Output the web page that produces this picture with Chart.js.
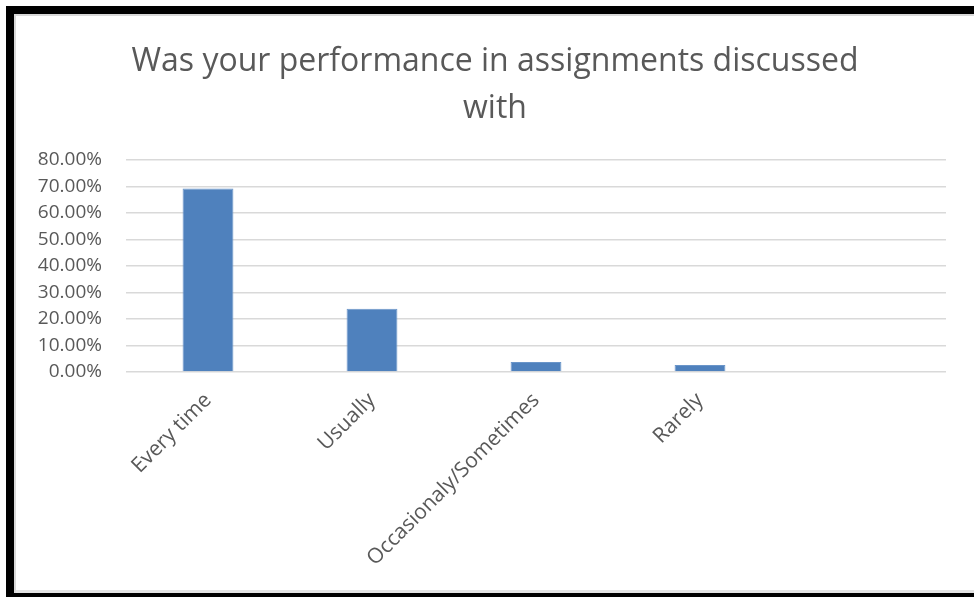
<!DOCTYPE html>
<html>
<head>
<meta charset="utf-8">
<script src="https://cdn.jsdelivr.net/npm/chart.js@4/dist/chart.umd.min.js"></script>
<style>
    body { margin: 0; background: #fff; overflow: hidden; }
    #frame {
        position: absolute;
        left: 6px;
        top: 6px;
        width: 1000px;
        height: 579px;
        border-top: 8px solid #000;
        border-left: 8px solid #000;
        border-bottom: 8px solid #000;
        box-shadow: inset 2px 2px 0 #d9d9d9, inset 0 -3px 0 #e3e3e3;
    }
    #wrap { position: absolute; left: 0; top: 0; width: 950px; height: 575px; }
</style>
</head>
<body>
<div id="frame">
    <div id="wrap"><canvas id="grafico"></canvas></div>
</div>
<script>
// dados
var categorias = ['Every time', 'Usually', 'Occasionaly/Sometimes', 'Rarely', ''];
var percentuais = [69.3, 23.9, 3.8, 2.6, null];
var tituloLinhas = ['Was your performance in assignments discussed', 'with'];

var corTexto = '#595959';
var fonte = "'Open Sans', sans-serif";

const dados = {
    labels: categorias,
    datasets: [{
        label: 'Percentual',
        backgroundColor: '#4f81bd',
        borderColor: '#6a95c9',
        borderWidth: 1,
        barPercentage: 0.31,
        categoryPercentage: 1,
        data: percentuais,
    }]
};

// o titulo no original fica um pouco deslocado para a direita
const deslocaTitulo = {
    id: 'deslocaTitulo',
    afterLayout: function (chart) {
        if (chart.titleBlock) {
            chart.titleBlock.left = 30;
        }
    }
};

const config = {
    type: 'bar',
    data: dados,
    plugins: [deslocaTitulo],
    options: {
        responsive: true,
        maintainAspectRatio: false,
        animation: false,
        layout: {
            padding: { left: 0, right: 18, top: 0, bottom: 0 }
        },
        plugins: {
            legend: { display: false },
            tooltip: { enabled: false },
            title: {
                display: true,
                text: tituloLinhas,
                color: corTexto,
                font: { family: fonte, size: 32, weight: 'normal', lineHeight: 1.47 },
                padding: { top: 24, bottom: 28 }
            }
        },
        scales: {
            x: {
                grid: { display: false },
                border: { display: false },
                ticks: {
                    color: corTexto,
                    font: { family: fonte, size: 21 },
                    minRotation: 45,
                    maxRotation: 45,
                    padding: 8
                },
                afterFit: function (scale) { scale.height = 217; }
            },
            y: {
                min: 0,
                max: 80,
                border: { display: false },
                grid: { color: '#d9d9d9', lineWidth: 1.5, drawTicks: false },
                ticks: {
                    stepSize: 10,
                    autoSkip: false,
                    color: corTexto,
                    font: { family: fonte, size: 19 },
                    padding: 24,
                    callback: function (v) { return v.toFixed(2) + '%'; }
                },
                afterFit: function (scale) { scale.width = 112; }
            }
        }
    }
};

var grafico = new Chart(document.getElementById('grafico'), config);
</script>
</body>
</html>
